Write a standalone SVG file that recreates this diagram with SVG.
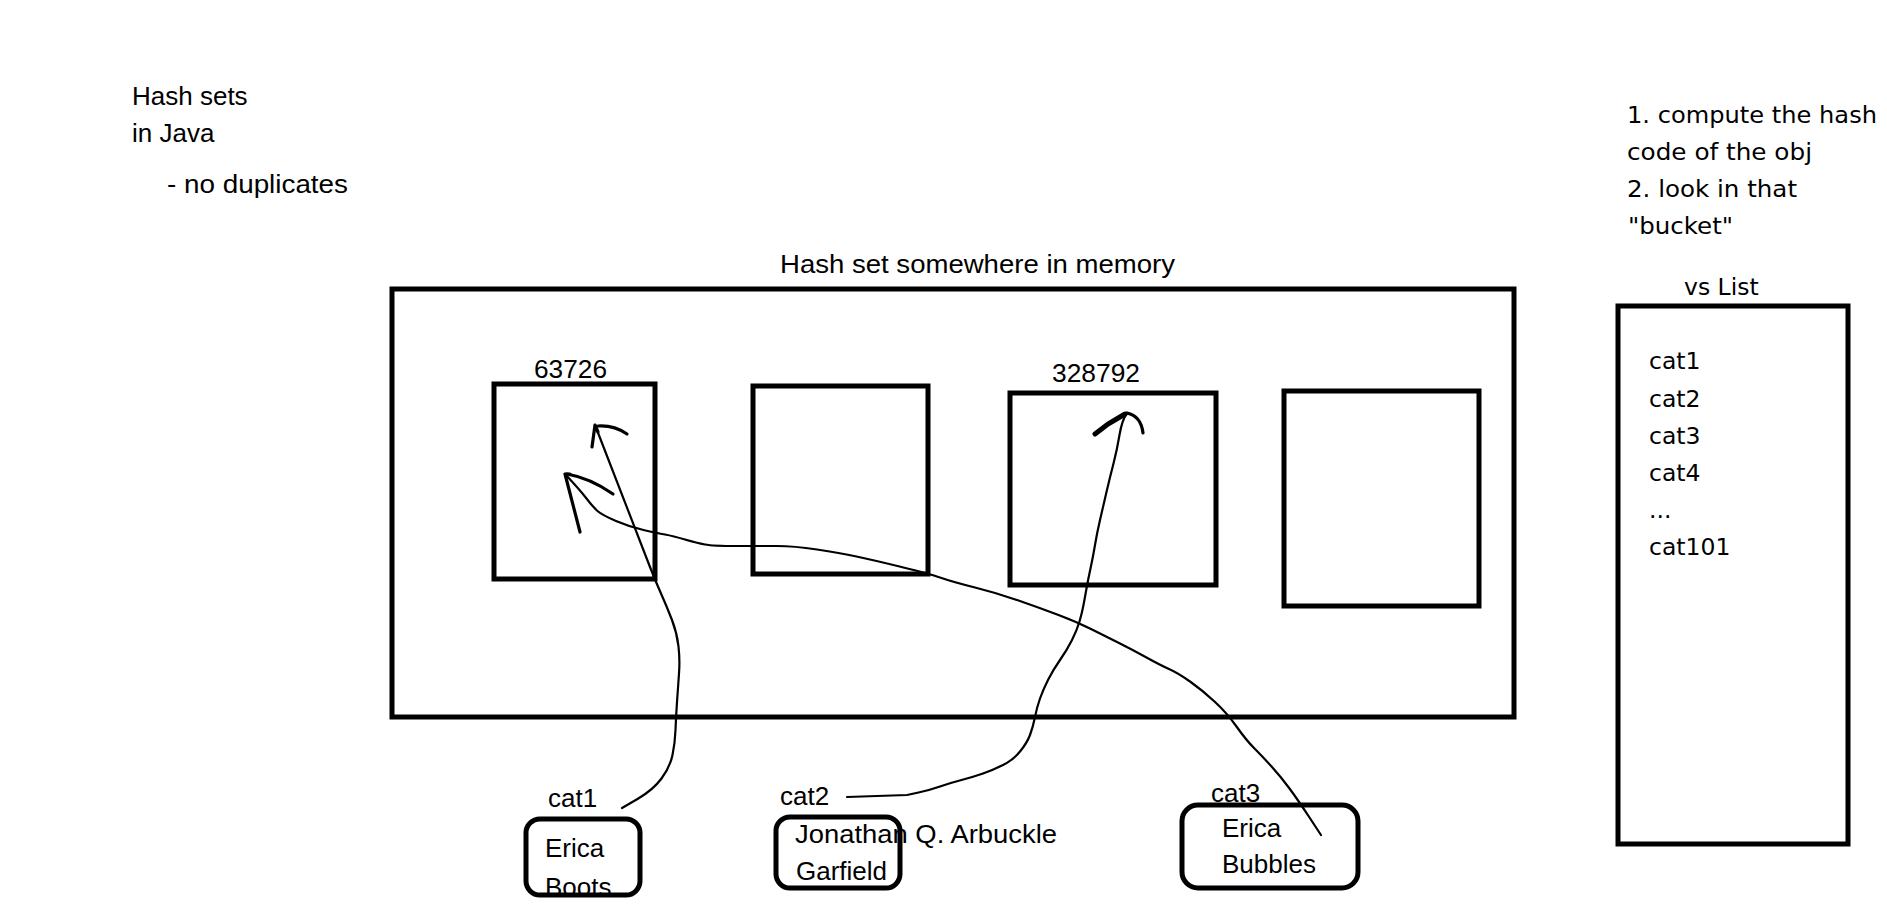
<svg xmlns="http://www.w3.org/2000/svg" width="1887" height="918" viewBox="0 0 1887 918">
<style>
.t{font-family:"Liberation Sans",Arial,sans-serif;font-size:26px;fill:#000}
.r{font-family:"DejaVu Sans",Verdana,sans-serif;font-size:23.5px;fill:#000}
.box{fill:none;stroke:#000;stroke-width:5}
.rbox{fill:none;stroke:#000;stroke-width:5}
.ln{fill:none;stroke:#000;stroke-width:2.2;stroke-linejoin:round;stroke-linecap:round}
.hd{fill:none;stroke:#000;stroke-width:3.2;stroke-linejoin:round;stroke-linecap:round}
</style>
<rect width="1887" height="918" fill="#fff"/>

<g id="notes-left">
<text class="t" x="132" y="105">Hash sets</text>
<text class="t" x="132" y="142">in Java</text>
<text class="t" x="167" y="193" textLength="181" lengthAdjust="spacingAndGlyphs">- no duplicates</text>
</g>

<g id="hash-set">
<text class="t" x="780" y="273" textLength="395" lengthAdjust="spacingAndGlyphs">Hash set somewhere in memory</text>
<rect class="box" x="392" y="289" width="1122" height="428"/>
</g>

<g id="bucket-63726">
<text class="t" x="534" y="378" textLength="73" lengthAdjust="spacingAndGlyphs">63726</text>
<rect class="box" x="494" y="384" width="161" height="195"/>
</g>
<g id="bucket-2">
<rect class="box" x="753" y="386" width="175" height="188"/>
</g>
<g id="bucket-328792">
<text class="t" x="1052" y="382" textLength="88" lengthAdjust="spacingAndGlyphs">328792</text>
<rect class="box" x="1010" y="393" width="206" height="192"/>
</g>
<g id="bucket-4">
<rect class="box" x="1284" y="391" width="195" height="215"/>
</g>

<g id="notes-right">
<text class="r" x="1627" y="123" textLength="250" lengthAdjust="spacingAndGlyphs">1. compute the hash</text>
<text class="r" x="1627" y="160" textLength="185" lengthAdjust="spacingAndGlyphs">code of the obj</text>
<text class="r" x="1627" y="197" textLength="170" lengthAdjust="spacingAndGlyphs">2. look in that</text>
<text class="r" x="1628" y="234" textLength="105" lengthAdjust="spacingAndGlyphs">"bucket"</text>
</g>

<g id="list">
<text class="r" x="1684" y="295">vs List</text>
<rect class="box" x="1618" y="306" width="230" height="538"/>
<text class="r" x="1649" y="369">cat1</text>
<text class="r" x="1649" y="407">cat2</text>
<text class="r" x="1649" y="444">cat3</text>
<text class="r" x="1649" y="481">cat4</text>
<text class="r" x="1649" y="518">...</text>
<text class="r" x="1649" y="555">cat101</text>
</g>

<g id="cat1">
<text class="t" x="548" y="807">cat1</text>
<text class="t" x="545" y="857">Erica</text>
<text class="t" x="545" y="896">Boots</text>
<rect class="rbox" x="526" y="819" width="114" height="76" rx="14"/>
</g>
<g id="cat2">
<text class="t" x="780" y="805">cat2</text>
<text class="t" x="795" y="843" textLength="262" lengthAdjust="spacingAndGlyphs">Jonathan Q. Arbuckle</text>
<text class="t" x="796" y="880">Garfield</text>
<rect class="rbox" x="776" y="817" width="124" height="71" rx="14"/>
</g>
<g id="cat3">
<text class="t" x="1211" y="802">cat3</text>
<text class="t" x="1222" y="837">Erica</text>
<text class="t" x="1222" y="873">Bubbles</text>
<rect class="rbox" x="1182" y="805" width="176" height="83" rx="16"/>
</g>

<g id="connectors">
<path class="ln" d="M622,808 L637.5,799 Q653,790 661.5,778.5 Q670,767 672.5,755 Q675,743 675.5,730 Q676,717 677,702 Q678,687 679,673.5 Q680,660 678.5,646.5 Q677,633 672,620 Q667,607 661,593.5 Q655,580 650,567 L595,425"/>
<polyline class="hd" points="592,447 595,425 598,432"/>
<path class="hd" d="M598,426 Q614,425 627,434"/>

<path class="ln" d="M847,797 L907,795 L918.5,792.5 Q930,790 940,786.5 Q950,783 961.5,780 Q973,777 983,773.5 Q993,770 1003,765 Q1013,760 1020,751.5 Q1027,743 1030,735 Q1033,727 1035,717 Q1037,707 1040,698.5 Q1043,690 1048,680 Q1053,670 1060,660 Q1067,650 1072,640 Q1077,630 1079.5,621.5 Q1082,613 1083.5,605 Q1085,597 1086.5,588.5 Q1088,580 1090.5,568.5 Q1093,557 1095,545 Q1097,533 1100,520 Q1103,507 1106.5,492 Q1110,477 1113.5,463.5 Q1117,450 1119.5,435 Q1122,420 1127,413"/>
<path d="M1095,434 L1108,424 L1125,414" fill="none" stroke="#000" stroke-width="5" stroke-linecap="round"/>
<path class="hd" d="M1127,413 Q1141,416 1143,433"/>

<path class="ln" d="M1321,835 L1309.5,817.5 Q1298,800 1289.5,788.5 Q1281,777 1272,767 Q1263,757 1254.5,748.5 Q1246,740 1236.5,726.5 Q1227,713 1214.5,701.5 Q1202,690 1190,681.5 Q1178,673 1169,669 Q1160,665 1146.5,657.5 Q1133,650 1120,643.5 Q1107,637 1092,629.5 Q1077,622 1058.5,615 Q1040,608 1018.5,600.5 Q997,593 975,587.5 Q953,582 941.5,578 Q930,574 901.5,567 Q873,560 856.5,556.5 Q840,553 817,549.5 Q794,546 777,546 Q760,546 736.5,546 Q713,546 705,544.5 Q697,543 685,539.5 Q673,536 665,534.5 Q657,533 643.5,530 Q630,527 616,521 Q602,515 597.5,511 Q593,507 586.5,498.5 Q580,490 565,474"/>
<polyline class="hd" points="580,532 565,474 570,474"/>
<path class="hd" d="M567,474 Q590,478 613,494"/>
</g>
</svg>
